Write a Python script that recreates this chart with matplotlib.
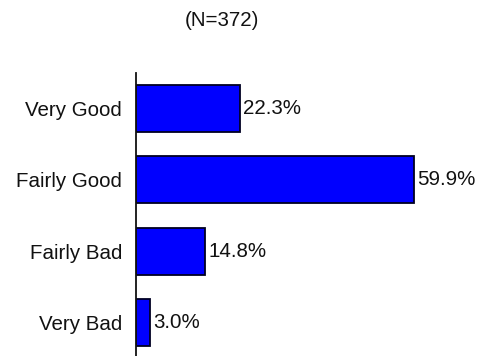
import matplotlib
matplotlib.use("Agg")
import matplotlib.pyplot as plt

categories = ["Very Good", "Fairly Good", "Fairly Bad", "Very Bad"]
values = [22.3, 59.9, 14.8, 3.0]
title = "(N=372)"

plt.rcParams['font.family'] = ['Liberation Sans', 'DejaVu Sans']

W, H = 485, 356
fig = plt.figure(figsize=(W / 100, H / 100), dpi=100)
ax_left, ax_right = 136, 461
ax_top, ax_bottom = 73, 358
ax = fig.add_axes([ax_left / W, (H - ax_bottom) / H,
                   (ax_right - ax_left) / W, (ax_bottom - ax_top) / H])

pos = list(range(len(categories)))
ax.barh(pos, values, height=0.66, color="#0000FF", edgecolor="#000022", linewidth=1.3, zorder=2)
ax.set_ylim(len(categories) - 0.5, -0.5)
ax.set_xlim(0, 70)

fs = 14.8
for p, v in zip(pos, values):
    ax.annotate(f"{v:.1f}%", xy=(v, p), xytext=(2.5, 0), textcoords="offset points",
                va="center", ha="left", fontsize=fs, color="#111111")

ax.set_yticks(pos)
ax.set_yticklabels(categories, fontsize=fs, color="#111111")
ax.tick_params(axis="y", length=0, pad=10)
ax.set_xticks([])
for s in ["top", "right", "bottom"]:
    ax.spines[s].set_visible(False)
ax.spines["left"].set_linewidth(1.3)
ax.spines["left"].set_color("#111111")

fig.text(222 / W, 1 - 20 / H, title, ha="center", va="center", fontsize=fs, color="#111111")

fig.savefig("out.png", dpi=100)
